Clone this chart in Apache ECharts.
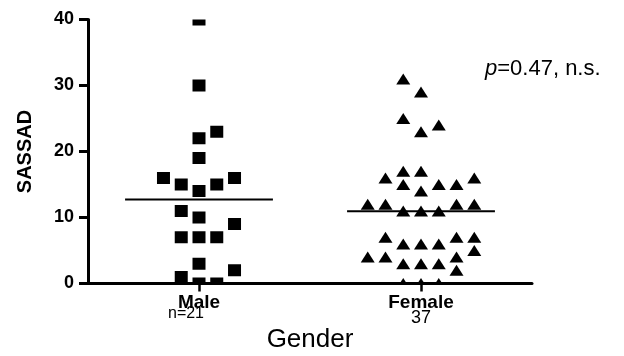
<!DOCTYPE html>
<html>
<head>
<meta charset="utf-8">
<script src="https://cdn.jsdelivr.net/npm/echarts@6/dist/echarts.min.js"></script>
<style>
  html, body { margin: 0; padding: 0; background: #fff; }
  #chart { width: 624px; height: 356px; }
</style>
</head>
<body>
<div id="chart"></div>
<script>
// ---- data ----
var categories = ['Male', 'Female'];
var groupCounts = ['n=21', '37'];
var yTicks = [0, 10, 20, 30, 40];
var pText = 'p=0.47, n.s.';

// SASSAD score per subject, and its slot in the dot-plot column (beeswarm spread)
var maleValues = [40, 30, 22, 23, 19, 16, 15, 14, 15, 16, 11, 10, 9, 7, 7, 7, 3, 1, 2, 0, 0];
var maleSlots  = [0, 0, 0, 1, 0, -2, -1, 0, 1, 2, -1, 0, 2, -1, 0, 1, 0, -1, 2, 0, 1];

var femaleValues = [31, 29, 25, 23, 24, 16, 17, 17, 16, 15, 15, 15, 14, 12, 12, 12, 12, 11, 11, 11,
                    7, 6, 6, 6, 7, 7, 5, 4, 4, 3, 3, 3, 4, 2, 0, 0, 0];
var femaleSlots  = [-1, 0, -1, 0, 1, -2, -1, 0, 3, -1, 1, 2, 0, -3, -2, 2, 3, -1, 0, 1,
                    -2, -1, 0, 1, 2, 3, 3, -3, -2, -1, 0, 1, 2, 2, -1, 0, 1];

// ---- build ----
var SLOT_STEP = 0.08;   // horizontal spacing of one swarm slot, in category units
var MEAN_HALF = 0.333;  // half-length of the mean bar, in category units
var FONT = "'Liberation Sans', Arial, sans-serif";

function toPoints(values, slots, catPos) {
  return values.map(function (v, i) { return [catPos + slots[i] * SLOT_STEP, v]; });
}
function mean(arr) { return arr.reduce(function (a, b) { return a + b; }, 0) / arr.length; }

var malePts = toPoints(maleValues, maleSlots, 1);
var femalePts = toPoints(femaleValues, femaleSlots, 2);
var meanPts = [[1, mean(maleValues)], [2, mean(femaleValues)]];

var chart = echarts.init(document.getElementById('chart'), null, { renderer: 'canvas' });

chart.setOption({
  animation: false,
  backgroundColor: '#fff',
  title: {
    text: '{i|p}{r|' + pText.slice(1) + '}',
    left: 485, top: 58, padding: 0,
    textStyle: {
      fontFamily: FONT, fontSize: 22, fontWeight: 'normal', color: '#000',
      rich: {
        i: { fontFamily: FONT, fontSize: 22, fontStyle: 'italic', color: '#000' },
        r: { fontFamily: FONT, fontSize: 22, color: '#000' }
      }
    }
  },
  grid: { left: 88, right: 92, top: 19.5, bottom: 72.5, containLabel: false, outerBoundsMode: 'none' },
  xAxis: [
    {
      type: 'category',
      data: categories,
      boundaryGap: true,
      name: 'Gender',
      nameLocation: 'middle',
      nameGap: 56.5,
      nameMoveOverlap: false,
      nameTextStyle: { fontFamily: FONT, fontSize: 26, color: '#000', verticalAlign: 'middle' },
      axisLine: { show: true, lineStyle: { color: '#000', width: 3 } },
      axisTick: { show: true, alignWithLabel: true, length: 8, lineStyle: { color: '#000', width: 2.5 } },
      axisLabel: {
        margin: 11,
        interval: 0,
        formatter: function (val, idx) {
          return '{b|' + val + '}\n{' + (idx === 0 ? 'n' : 'm') + '|' + groupCounts[idx] + '}';
        },
        rich: {
          b: { fontFamily: FONT, fontSize: 19, fontWeight: 'bold', color: '#000', lineHeight: 16 },
          n: { fontFamily: FONT, fontSize: 16, color: '#000', lineHeight: 6, padding: [0, 26, 0, 0] },
          m: { fontFamily: FONT, fontSize: 18, color: '#000', lineHeight: 15 }
        }
      },
      splitLine: { show: false }
    },
    { type: 'value', min: 0.5, max: 2.5, show: false }
  ],
  yAxis: {
    type: 'value',
    min: yTicks[0], max: yTicks[yTicks.length - 1], interval: 10,
    name: 'SASSAD',
    nameLocation: 'middle',
    nameGap: 62.5,
    nameMoveOverlap: false,
    nameTextStyle: { fontFamily: FONT, fontSize: 20, fontWeight: 'bold', color: '#000', verticalAlign: 'middle' },
    axisLine: { show: true, lineStyle: { color: '#000', width: 3 } },
    axisTick: { show: true, length: 9, lineStyle: { color: '#000', width: 3 } },
    axisLabel: { margin: 14, fontFamily: FONT, fontSize: 18, fontWeight: 'bold', color: '#000' },
    splitLine: { show: false }
  },
  series: [
    {
      name: 'Male', type: 'custom', xAxisIndex: 1, clip: true, data: malePts,
      renderItem: function (params, api) {
        var p = api.coord([api.value(0), api.value(1)]);
        return { type: 'rect', shape: { x: p[0] - 6.5, y: p[1] - 6, width: 13, height: 12 },
                 style: { fill: '#000' } };
      }
    },
    {
      name: 'Female', type: 'custom', xAxisIndex: 1, clip: true, data: femalePts,
      renderItem: function (params, api) {
        var p = api.coord([api.value(0), api.value(1)]);
        return { type: 'polygon',
                 shape: { points: [[p[0], p[1] - 5.5], [p[0] + 7, p[1] + 5.5], [p[0] - 7, p[1] + 5.5]] },
                 style: { fill: '#000' } };
      }
    },
    {
      name: 'Mean', type: 'custom', xAxisIndex: 1, data: meanPts,
      renderItem: function (params, api) {
        var a = api.coord([api.value(0) - MEAN_HALF, api.value(1)]);
        var b = api.coord([api.value(0) + MEAN_HALF, api.value(1)]);
        return { type: 'line', shape: { x1: a[0], y1: a[1], x2: b[0], y2: b[1] },
                 style: { stroke: '#000', lineWidth: 2 } };
      }
    }
  ]
});
</script>
</body>
</html>
